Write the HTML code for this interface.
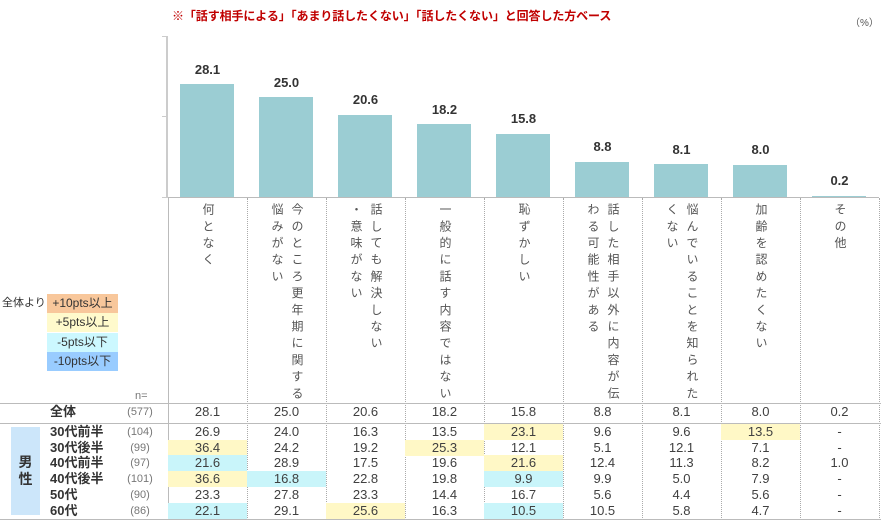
<!DOCTYPE html>
<html><head><meta charset="utf-8"><style>
body{margin:0;width:881px;height:521px;background:#fff;position:relative;overflow:hidden;font-family:"Liberation Sans","Noto Sans CJK JP",sans-serif;color:#404040}
div{position:absolute;box-sizing:border-box}
.t{color:#c00000;font-weight:bold;font-size:12px;left:172px;top:7px;letter-spacing:-0.1px}
.bar{background:#9bcdd3;width:54px}
.bl{font-size:13px;font-weight:bold;width:79px;text-align:center;color:#333}
.v{writing-mode:vertical-rl;font-size:12px;letter-spacing:4.7px;line-height:14px;top:203px;color:#555}
.sep{border-left:1px dotted #aaa;top:198px;height:320px;width:0}
.hl{height:0;border-top:1px solid #bbb;left:0;width:881px}
.c{width:79px;text-align:center;font-size:13px;height:16px;line-height:16px}
.lab{font-size:13px;font-weight:bold;left:50px;height:16px;line-height:16px;color:#333}
.n{font-size:11px;color:#777;left:120px;width:40px;text-align:center;height:16px;line-height:16px}
.y{background:#fff8c6}.b{background:#c9f5fa}
.lg{left:47px;width:71px;height:19px;font-size:12px;text-align:center;line-height:19px;color:#333}
</style></head><body>
<div class="t">※「話す相手による」「あまり話したくない」「話したくない」と回答した方ベース</div>
<div style="left:850px;top:14px;font-size:10px;color:#555">（%）</div>
<div style="left:166px;top:36px;width:2px;height:162px;background:#ccc"></div>
<div style="left:162px;top:36px;width:5px;height:1px;background:#ccc"></div>
<div style="left:162px;top:116px;width:5px;height:1px;background:#ccc"></div>
<div style="left:162px;top:197px;width:5px;height:1px;background:#ccc"></div>
<div style="left:168px;top:197px;width:711px;height:1px;background:#bbb"></div>
<div class="bar" style="left:180px;top:84px;height:113px"></div><div class="bl" style="left:168px;top:62px">28.1</div>
<div class="bar" style="left:259px;top:97px;height:100px"></div><div class="bl" style="left:247px;top:75px">25.0</div>
<div class="bar" style="left:338px;top:115px;height:82px"></div><div class="bl" style="left:326px;top:92px">20.6</div>
<div class="bar" style="left:417px;top:124px;height:73px"></div><div class="bl" style="left:405px;top:102px">18.2</div>
<div class="bar" style="left:496px;top:134px;height:63px"></div><div class="bl" style="left:484px;top:111px">15.8</div>
<div class="bar" style="left:575px;top:162px;height:35px"></div><div class="bl" style="left:563px;top:139px">8.8</div>
<div class="bar" style="left:654px;top:164px;height:33px"></div><div class="bl" style="left:642px;top:142px">8.1</div>
<div class="bar" style="left:733px;top:165px;height:32px"></div><div class="bl" style="left:721px;top:142px">8.0</div>
<div class="bar" style="left:812px;top:196px;height:1px"></div><div class="bl" style="left:800px;top:173px">0.2</div>

<div class="sep" style="left:168px;border-left:1px solid #bbb"></div><div class="sep" style="left:247px"></div><div class="sep" style="left:326px"></div><div class="sep" style="left:405px"></div><div class="sep" style="left:484px"></div><div class="sep" style="left:563px"></div><div class="sep" style="left:642px"></div><div class="sep" style="left:721px"></div><div class="sep" style="left:800px"></div><div class="sep" style="left:879px"></div>

<div class="v" style="left:201px">何となく</div>
<div class="v" style="left:290px">今のところ更年期に関する</div><div class="v" style="left:270px">悩みがない</div>
<div class="v" style="left:369px">話しても解決しない</div><div class="v" style="left:349px">・意味がない</div>
<div class="v" style="left:438px">一般的に話す内容ではない</div>
<div class="v" style="left:517px">恥ずかしい</div>
<div class="v" style="left:606px">話した相手以外に内容が伝</div><div class="v" style="left:586px">わる可能性がある</div>
<div class="v" style="left:685px">悩んでいることを知られた</div><div class="v" style="left:665px">くない</div>
<div class="v" style="left:754px">加齢を認めたくない</div>
<div class="v" style="left:833px">その他</div>

<div style="left:2px;top:294px;font-size:11px;color:#333">全体より</div>
<div class="lg" style="top:294px;background:#f8c79b">+10pts以上</div>
<div class="lg" style="top:313px;background:#fffacc">+5pts以上</div>
<div class="lg" style="top:333px;background:#ccf8ff">-5pts以下</div>
<div class="lg" style="top:352px;background:#99ccff">-10pts以下</div>
<div style="left:135px;top:390px;font-size:11px;color:#777">n=</div>

<div class="hl" style="top:403px"></div><div class="hl" style="top:423px"></div><div class="hl" style="top:519px"></div>
<div class="lab" style="top:404px">全体</div><div class="n" style="top:404px">(577)</div>
<div class="c" style="left:168px;top:404px">28.1</div><div class="c" style="left:247px;top:404px">25.0</div><div class="c" style="left:326px;top:404px">20.6</div><div class="c" style="left:405px;top:404px">18.2</div><div class="c" style="left:484px;top:404px">15.8</div><div class="c" style="left:563px;top:404px">8.8</div><div class="c" style="left:642px;top:404px">8.1</div><div class="c" style="left:721px;top:404px">8.0</div><div class="c" style="left:800px;top:404px">0.2</div>

<div style="left:11px;top:427px;width:29px;height:88px;background:#cce6fa;font-size:14px;font-weight:bold;color:#333;text-align:center;line-height:17px;padding-top:27px">男<br>性</div>

<div class="lab" style="top:424px">30代前半</div><div class="n" style="top:424px">(104)</div>
<div class="c" style="left:168px;top:424px">26.9</div><div class="c" style="left:247px;top:424px">24.0</div><div class="c" style="left:326px;top:424px">16.3</div><div class="c" style="left:405px;top:424px">13.5</div><div class="c y" style="left:484px;top:424px">23.1</div><div class="c" style="left:563px;top:424px">9.6</div><div class="c" style="left:642px;top:424px">9.6</div><div class="c y" style="left:721px;top:424px">13.5</div><div class="c" style="left:800px;top:424px">-</div>

<div class="lab" style="top:440px">30代後半</div><div class="n" style="top:440px">(99)</div>
<div class="c y" style="left:168px;top:440px">36.4</div><div class="c" style="left:247px;top:440px">24.2</div><div class="c" style="left:326px;top:440px">19.2</div><div class="c y" style="left:405px;top:440px">25.3</div><div class="c" style="left:484px;top:440px">12.1</div><div class="c" style="left:563px;top:440px">5.1</div><div class="c" style="left:642px;top:440px">12.1</div><div class="c" style="left:721px;top:440px">7.1</div><div class="c" style="left:800px;top:440px">-</div>

<div class="lab" style="top:455px">40代前半</div><div class="n" style="top:455px">(97)</div>
<div class="c b" style="left:168px;top:455px">21.6</div><div class="c" style="left:247px;top:455px">28.9</div><div class="c" style="left:326px;top:455px">17.5</div><div class="c" style="left:405px;top:455px">19.6</div><div class="c y" style="left:484px;top:455px">21.6</div><div class="c" style="left:563px;top:455px">12.4</div><div class="c" style="left:642px;top:455px">11.3</div><div class="c" style="left:721px;top:455px">8.2</div><div class="c" style="left:800px;top:455px">1.0</div>

<div class="lab" style="top:471px">40代後半</div><div class="n" style="top:471px">(101)</div>
<div class="c y" style="left:168px;top:471px">36.6</div><div class="c b" style="left:247px;top:471px">16.8</div><div class="c" style="left:326px;top:471px">22.8</div><div class="c" style="left:405px;top:471px">19.8</div><div class="c b" style="left:484px;top:471px">9.9</div><div class="c" style="left:563px;top:471px">9.9</div><div class="c" style="left:642px;top:471px">5.0</div><div class="c" style="left:721px;top:471px">7.9</div><div class="c" style="left:800px;top:471px">-</div>

<div class="lab" style="top:487px">50代</div><div class="n" style="top:487px">(90)</div>
<div class="c" style="left:168px;top:487px">23.3</div><div class="c" style="left:247px;top:487px">27.8</div><div class="c" style="left:326px;top:487px">23.3</div><div class="c" style="left:405px;top:487px">14.4</div><div class="c" style="left:484px;top:487px">16.7</div><div class="c" style="left:563px;top:487px">5.6</div><div class="c" style="left:642px;top:487px">4.4</div><div class="c" style="left:721px;top:487px">5.6</div><div class="c" style="left:800px;top:487px">-</div>

<div class="lab" style="top:503px">60代</div><div class="n" style="top:503px">(86)</div>
<div class="c b" style="left:168px;top:503px">22.1</div><div class="c" style="left:247px;top:503px">29.1</div><div class="c y" style="left:326px;top:503px">25.6</div><div class="c" style="left:405px;top:503px">16.3</div><div class="c b" style="left:484px;top:503px">10.5</div><div class="c" style="left:563px;top:503px">10.5</div><div class="c" style="left:642px;top:503px">5.8</div><div class="c" style="left:721px;top:503px">4.7</div><div class="c" style="left:800px;top:503px">-</div>
</body></html>
